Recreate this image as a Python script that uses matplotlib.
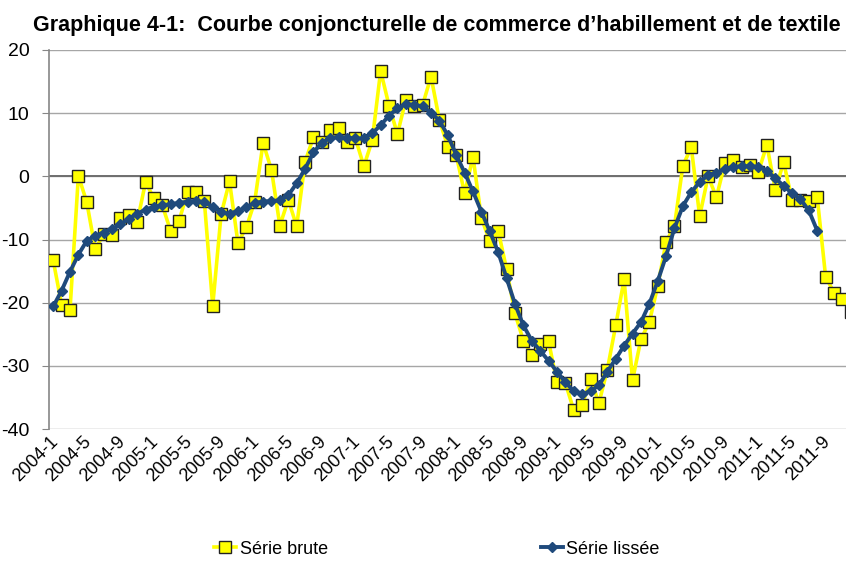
import matplotlib
matplotlib.use("Agg")
import matplotlib.pyplot as plt
from matplotlib.lines import Line2D
from matplotlib.transforms import ScaledTranslation

plt.rcParams['font.family'] = ['Liberation Sans', 'DejaVu Sans']

# months 2004-1 .. 2011-12
months = [f"{y}-{m}" for y in range(2004, 2012) for m in range(1, 13)]

serie_brute = [
    -13.3, -20.3, -21.2, 0.1, -4.1, -11.5, -9.2, -9.3, -6.6, -6.2,
    -7.3, -0.9, -3.5, -4.6, -8.7, -7.0, -2.5, -2.5, -3.9, -20.5,
    -6.0, -0.8, -10.5, -8.1, -4.0, 5.3, 1.0, -7.8, -3.7, -7.9,
    2.3, 6.2, 5.4, 7.4, 7.6, 5.5, 6.0, 1.6, 5.7, 16.7,
    11.2, 6.7, 12.1, 11.2, 11.3, 15.8, 8.9, 4.7, 3.4, -2.7,
    3.1, -6.6, -10.3, -8.6, -14.7, -21.7, -26.0, -28.3, -26.6, -26.1,
    -32.6, -32.7, -37.0, -36.2, -32.1, -35.9, -30.6, -23.6, -16.3, -32.3,
    -25.8, -23.1, -17.4, -10.4, -7.8, 1.7, 4.6, -6.3, 0.0, -3.3,
    2.1, 2.6, 1.4, 1.8, 0.7, 5.0, -2.1, 2.2, -3.7, -3.8,
    -3.9, -3.3, -15.9, -18.4, -19.4, -21.5,
]

serie_lissee = [
    -20.6, -18.1, -15.1, -12.4, -10.2, -9.4, -8.9, -8.3, -7.6, -6.7,
    -5.9, -5.3, -4.8, -4.6, -4.4, -4.2, -4.0, -3.9, -4.1, -4.8,
    -5.7, -5.9, -5.5, -4.9, -4.2, -4.0, -3.9, -3.8, -3.0, -1.1,
    1.2, 3.8, 5.3, 6.1, 6.2, 6.1, 6.0, 6.0, 6.8, 8.1,
    9.6, 10.8, 11.4, 11.3, 11.1, 10.1, 8.8, 6.5, 3.4, 0.6,
    -2.4, -5.6, -8.7, -12.0, -16.1, -20.2, -23.6, -26.0, -27.6, -29.2,
    -30.9, -32.6, -34.0, -34.5, -34.0, -33.1, -30.9, -28.9, -26.8, -24.9,
    -23.1, -20.2, -16.6, -12.6, -8.2, -4.7, -2.5, -0.9, 0.2, 0.6,
    1.1, 1.5, 1.6, 1.6, 1.5, 0.9, -0.3, -1.5, -2.7, -3.6,
    -5.4, -8.6,
]

tick_labels = months[0:93:4]
y_ticks = [20, 10, 0, -10, -20, -30, -40]

title = "Graphique 4-1:  Courbe conjoncturelle de commerce d\u2019habillement et de textile"

yellow = "#FFFF00"
blue = "#1F4A7C"

fig = plt.figure(figsize=(8.46, 5.63), dpi=100)
ax = fig.add_axes([49/846, (563-429)/563, 806/846, (429-50)/563])

x_brute = list(range(len(serie_brute)))
x_lissee = list(range(len(serie_lissee)))

for yv in y_ticks:
    ax.axhline(yv, color="#A6A6A6", lw=1.0, zorder=0)
ax.axhline(0, color="#6E6E6E", lw=1.4, zorder=1)

ax.plot(x_brute, serie_brute, color=yellow, lw=2.6, marker="s", markersize=9,
        markerfacecolor=yellow, markeredgecolor="#222222", markeredgewidth=1.0, zorder=3,
        label="S\u00e9rie brute")
ax.plot(x_lissee, serie_lissee, color=blue, lw=2.8, marker="D", markersize=5.5,
        markerfacecolor=blue, markeredgecolor=blue, zorder=4, label="S\u00e9rie liss\u00e9e")

ax.set_xlim(-0.5, len(months) - 0.5)
ax.set_ylim(-40, 20)
ax.set_yticks(y_ticks)
ax.set_yticklabels([str(v) for v in y_ticks], fontsize=14)
ax.set_xticks(range(0, 93, 4))
ax.set_xticklabels(tick_labels, rotation=45, ha="right", rotation_mode="anchor", fontsize=13)
ax.tick_params(axis="x", length=0, pad=3)
ax.tick_params(axis="y", length=5, color="#868686", direction="out", pad=9)

offset = ScaledTranslation(-4/100, 0, fig.dpi_scale_trans)
for lab in ax.get_xticklabels():
    lab.set_transform(lab.get_transform() + offset)

for s in ["top", "right", "bottom"]:
    ax.spines[s].set_visible(False)
ax.spines["left"].set_color("#868686")
ax.spines["left"].set_linewidth(1.2)

fig.text(437/846, 1 - 25/563, title, ha="center", va="center", fontsize=15.5, fontweight="bold")

handles = [
    Line2D([0], [0], color=yellow, lw=2.6, marker="s", markersize=9, markerfacecolor=yellow,
           markeredgecolor="#222222", markeredgewidth=1.0),
    Line2D([0], [0], color=blue, lw=2.8, marker="D", markersize=5.5, markerfacecolor=blue,
           markeredgecolor=blue),
]
fig.legend(handles, ["S\u00e9rie brute", "S\u00e9rie liss\u00e9e"], loc="center",
           bbox_to_anchor=(437/846, 1 - 549/563), ncol=2, frameon=False, fontsize=13,
           handlelength=1.2, handletextpad=0.2, columnspacing=11.8)

fig.savefig("out.png", dpi=100)
